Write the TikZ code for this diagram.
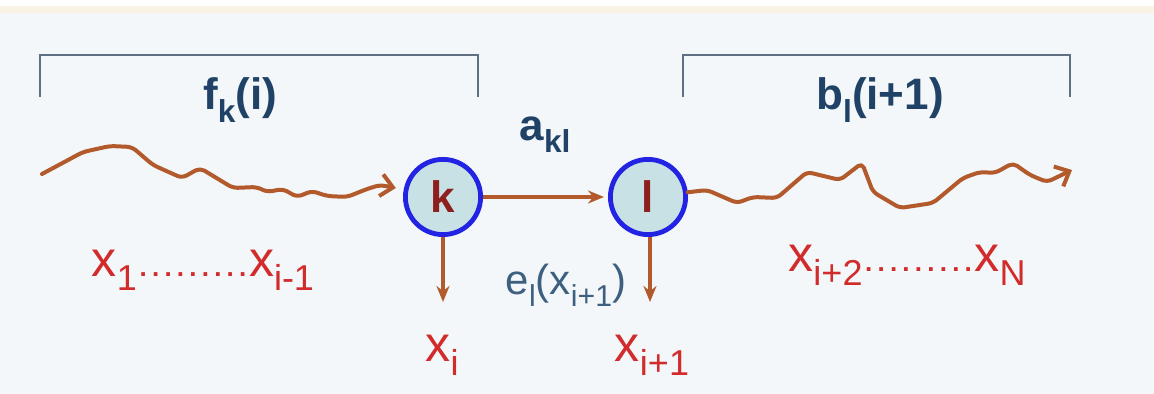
\documentclass[tikz,border=0pt]{standalone}
\usepackage{fontspec}
\usepackage{graphicx}
\setmainfont{Liberation Sans}
\usetikzlibrary{arrows.meta,positioning}
\definecolor{ChainPanel}{HTML}{F3F7F9}
\definecolor{ChainBand}{HTML}{F8F3E4}
\definecolor{ChainGuide}{HTML}{5E7082}
\definecolor{ChainNavy}{HTML}{1F4266}
\definecolor{ChainRed}{HTML}{D22B2B}
\definecolor{ChainBrown}{HTML}{B25A2B}
\definecolor{ChainBlue}{HTML}{2323E3}
\definecolor{ChainFill}{HTML}{C8E1E5}
\definecolor{ChainStateText}{HTML}{8E1F1F}
\definecolor{ChainSlate}{HTML}{3E6080}
\newcommand{\lowsub}[1]{\raisebox{-0.28em}{\scalebox{0.72}{#1}}}
\newcommand{\dotrun}{{\fontsize{13}{13}\selectfont\bfseries\makebox[56pt]{\xleaders\hbox to 6.2pt{\hss.\hss}\hfill}}}

\begin{document}
\begin{tikzpicture}[
  x=0.5pt,y=-0.5pt,
  >=Stealth,
  state/.style={circle,draw=ChainBlue,fill=ChainFill,line width=2.4pt,
    minimum size=37.6pt,inner sep=0pt,text=ChainStateText,
    font=\fontsize{22}{24}\selectfont\bfseries},
  brace/.style={draw=ChainGuide,line width=1pt},
  walk/.style={draw=ChainBrown,line width=2pt,line join=round,line cap=round,
    rounded corners=2.5pt,
    -{Straight Barb[length=6pt,width=11pt,line width=2pt]}},
  flow/.style={draw=ChainBrown,line width=2pt,-{Stealth[length=8pt,width=6.5pt]}},
  segtitle/.style={text=ChainNavy,font=\fontsize{22}{26}\selectfont\bfseries},
  symbol/.style={text=ChainRed,font=\fontsize{25}{28}\selectfont},
  emitlabel/.style={text=ChainSlate,font=\fontsize{21}{24}\selectfont}
]
  \useasboundingbox (0,0) rectangle (1154,394);
  % Slide panel.
  \fill[ChainPanel] (0,0) rectangle (1154,394);
  \fill[white] (0,0) rectangle (1154,6);
  \fill[ChainBand] (0,6) rectangle (1154,13);

  % Forward and backward segments.
  \draw[brace] (40,97) -- (40,55) -- (478,55) -- (478,97);
  \draw[brace] (683,97) -- (683,55) -- (1070,55) -- (1070,97);
  \node[segtitle] (fwd) at (240,100) {f\lowsub{k}(i)};
  \node[segtitle] (bwd) at (880,100) {b\lowsub{l}(i+1)};

  % Two consecutive hidden states.
  \node[state] (k) at (443,197) {k};
  \node[state] (l) at (648,197) {l};
  \node[segtitle] (trans) at (545,135) {a\lowsub{kl}};
  \draw[flow,shorten >=2pt] (k) -- (l);

  % Emitted symbols.
  \coordinate (kout) at (443,302);
  \coordinate (lout) at (650,302);
  \draw[flow] (k) -- (kout);
  \draw[flow] (l.south -| lout) -- (lout);
  \node[symbol] (xi) at (442,355) {x\lowsub{i}};
  \node[symbol] (xnext) at (652,355) {x\lowsub{i+1}};
  \node[emitlabel] (emis) at (566,285) {e\lowsub{l}(x\lowsub{i+1})};
  \node[symbol] (past) at (203,270) {x\lowsub{1}\dotrun x\lowsub{i-1}};
  \node[symbol] (future) at (907,265) {x\lowsub{i+2}\dotrun x\lowsub{N}};

  % Paths through the rest of the chain.
  \coordinate (pstart) at (42,174);
  \coordinate (fend) at (1072,170);
  \draw[walk,shorten >=4pt] (pstart) -- (83,152) -- (110,146) -- (132,147)
    -- (153,165) -- (182,178) -- (200,168) -- (233,188) -- (257,187)
    -- (267,192) -- (283,189) -- (297,197) -- (312,191) -- (327,196)
    -- (347,197) -- (367,189) -- (380,185) -- (k);
  \draw[walk] (l) -- (707,190) -- (737,203) -- (753,197) -- (777,198)
    -- (807,172) -- (840,180) -- (862,163) -- (873,192) -- (900,208)
    -- (933,203) -- (963,178) -- (980,172) -- (995,173) -- (1013,163)
    -- (1030,175) -- (1047,182) -- (fend);
\end{tikzpicture}
\end{document}
